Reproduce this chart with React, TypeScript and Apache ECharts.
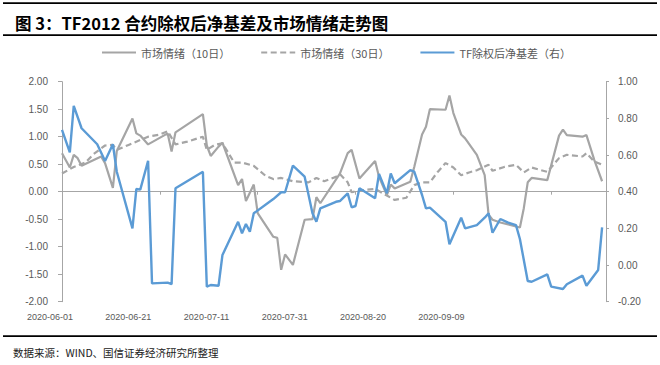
import React, { useEffect, useRef } from 'react';
import * as echarts from 'echarts';

// Calendar-day categories (index 0 = 2020-06-01)
const dayCount = 140;
const categories: string[] = Array.from({ length: dayCount }, (_, i) =>
  new Date(Date.UTC(2020, 5, 1 + i)).toISOString().slice(0, 10)
);
const tickLabels = ['2020-06-01', '2020-06-21', '2020-07-11', '2020-07-31', '2020-08-20', '2020-09-09'];

const seriesNames = ['市场情绪（10日）', '市场情绪（30日）', 'TF除权后净基差（右）'];

// 市场情绪（10日） — day index / value (left axis)
const sent10Days = [0, 2, 3, 4, 5, 10, 11, 13, 14, 18, 19, 20, 22, 27, 28, 29, 36, 37, 38, 40, 41, 45, 46, 47, 49, 50, 54, 55, 56, 57, 59, 62, 64, 65, 66, 71, 73, 74, 76, 80, 81, 83, 84, 85, 89, 90, 92, 93, 94, 98, 99, 100, 102, 103, 106, 108, 109, 110, 112, 117, 118, 119, 120, 124, 127, 128, 129, 133, 134, 136, 138];
const sent10 = [0.70, 0.44, 0.67, 0.61, 0.47, 0.64, 0.52, 0.07, 0.74, 1.33, 1.06, 1.02, 0.86, 1.06, 0.73, 1.08, 1.41, 0.84, 0.65, 0.82, 0.89, 0.12, 0.23, -0.17, 0.13, -0.39, -0.82, -0.84, -1.42, -1.14, -1.33, -0.51, -0.50, -0.10, -0.21, 0.33, 0.70, 0.76, 0.24, 0.56, 0.27, -0.06, 0.13, 0.06, 0.18, 0.45, 1.04, 1.18, 1.50, 1.49, 1.75, 1.43, 1.04, 0.97, 0.67, 0.30, -0.42, -0.51, -0.56, -0.65, -0.30, 0.17, 0.25, 0.21, 1.02, 1.13, 1.03, 1.00, 1.03, 0.58, 0.19];

// 市场情绪（30日） — day index / value (left axis)
const sent30Days = [0, 3, 6, 8, 11, 13, 14, 17, 20, 22, 25, 27, 29, 32, 36, 37, 39, 41, 44, 46, 49, 52, 54, 56, 59, 63, 65, 67, 70, 71, 73, 74, 77, 80, 83, 85, 88, 90, 92, 94, 96, 98, 100, 102, 104, 106, 109, 110, 113, 116, 118, 120, 124, 127, 129, 133, 134, 136, 138];
const sent30 = [0.33, 0.45, 0.53, 0.68, 0.84, 0.85, 0.76, 0.85, 0.94, 1.00, 1.04, 1.10, 0.86, 0.91, 1.00, 0.76, 0.85, 0.88, 0.53, 0.53, 0.47, 0.29, 0.23, 0.25, 0.19, 0.17, 0.25, 0.19, 0.27, 0.32, 0.17, -0.01, 0.03, 0.05, -0.07, -0.15, -0.11, 0.12, 0.17, 0.17, 0.36, 0.52, 0.44, 0.30, 0.35, 0.39, 0.49, 0.38, 0.45, 0.49, 0.35, 0.44, 0.36, 0.61, 0.67, 0.64, 0.70, 0.55, 0.49];

// TF除权后净基差（右） — day index / value (right axis)
const basisDays = [0, 2, 3, 5, 9, 11, 13, 14, 18, 19, 20, 22, 23, 27, 28, 29, 36, 37, 38, 40, 41, 45, 46, 47, 48, 49, 54, 56, 57, 59, 62, 64, 65, 66, 68, 70, 71, 73, 74, 75, 76, 80, 81, 83, 84, 85, 89, 90, 92, 93, 94, 98, 99, 102, 103, 106, 108, 109, 110, 112, 114, 116, 117, 119, 120, 124, 125, 128, 129, 133, 134, 137, 138];
const basis = [0.737, 0.615, 0.868, 0.746, 0.659, 0.567, 0.659, 0.509, 0.200, 0.415, 0.411, 0.569, -0.100, -0.096, -0.104, 0.419, 0.509, -0.118, -0.109, -0.113, 0.055, 0.236, 0.173, 0.224, 0.182, 0.282, 0.360, 0.397, 0.397, 0.542, 0.482, 0.282, 0.236, 0.309, 0.327, 0.345, 0.349, 0.391, 0.315, 0.322, 0.419, 0.364, 0.497, 0.391, 0.500, 0.446, 0.518, 0.509, 0.382, 0.309, 0.313, 0.236, 0.113, 0.258, 0.200, 0.218, 0.258, 0.282, 0.176, 0.251, 0.231, 0.218, 0.142, -0.087, -0.091, -0.051, -0.118, -0.131, -0.105, -0.058, -0.113, -0.027, 0.206];

const pairs = (days: number[], vals: number[]) => days.map((d, i) => [d, vals[i]]);

const GRAY = '#a5a5a5';
const BLUE = '#5b9bd5';
const AXIS = '#a6a6a6';
const LABEL = '#595959';
const CJK = 'Noto Sans CJK SC, sans-serif';
const LATIN = 'Liberation Sans, Arial, sans-serif';

// decorative horizontal rules (title band and source line)
const ruleYs = [2.5, 34.5, 335.5];

export default function App() {
  const ref = useRef<HTMLDivElement>(null);
  useEffect(() => {
    const chart = echarts.init(ref.current!, null, { renderer: 'svg' });
    chart.setOption({
      animation: false,
      graphic: {
        elements: [
          ...ruleYs.map((y) => ({
            type: 'rect',
            z: 100,
            shape: { x: 3, y, width: 654, height: 1.4 },
            style: { fill: '#000000' },
          })),
          ...ruleYs.map((y) => ({
            type: 'text',
            x: 3,
            y,
            z: 100,
            style: {
              text: ' ',
              fontSize: 1,
              lineHeight: 1.4,
              width: 654,
              height: 1.4,
              backgroundColor: '#000000',
            },
          })),
          {
            type: 'text',
            x: 15,
            y: 22.5,
            style: {
              text: '图 3：TF2012 合约除权后净基差及市场情绪走势图',
              fontSize: 16.5,
              fontWeight: 'bold',
              fill: '#000',
              fontFamily: CJK,
              verticalAlign: 'middle',
            },
          },
          {
            type: 'text',
            x: 13,
            y: 352,
            style: {
              text: '数据来源：WIND、国信证券经济研究所整理',
              fontSize: 10.5,
              fill: '#222',
              fontFamily: CJK,
              verticalAlign: 'middle',
            },
          },
        ],
      },
      legend: {
        left: 96,
        top: 42,
        itemWidth: 34,
        itemHeight: 14,
        itemGap: 30,
        itemStyle: { opacity: 0 },
        textStyle: { fontSize: 11, color: LABEL, fontFamily: CJK },
        data: seriesNames,
      },
      grid: { left: 62, right: 54, top: 81.7, bottom: 63.3, containLabel: false },
      xAxis: [
        {
          type: 'category',
          data: categories,
          boundaryGap: false,
          position: 'bottom',
          axisLine: { show: false, onZero: false },
          axisTick: { show: false },
          splitLine: { show: false },
          axisLabel: {
            interval: (_i: number, v: string) => tickLabels.includes(v),
            margin: 11,
            fontSize: 9,
            color: LABEL,
            fontFamily: LATIN,
            padding: [0, 24, 0, 0],
          },
        },
        {
          type: 'category',
          data: categories,
          boundaryGap: false,
          position: 'bottom',
          axisLine: { show: true, onZero: true, onZeroAxisIndex: 0, lineStyle: { color: AXIS, width: 1 } },
          axisTick: { show: true, interval: 24, length: 3, lineStyle: { color: AXIS } },
          axisLabel: { show: false },
          splitLine: { show: false },
        },
      ],
      yAxis: [
        {
          type: 'value',
          min: -2,
          max: 2,
          interval: 0.5,
          position: 'left',
          axisLine: { show: true, lineStyle: { color: AXIS } },
          axisTick: { show: true, length: 4, lineStyle: { color: AXIS } },
          splitLine: { show: false },
          axisLabel: {
            formatter: (v: number) => v.toFixed(2),
            margin: 14,
            fontSize: 10,
            color: LABEL,
            fontFamily: LATIN,
          },
        },
        {
          type: 'value',
          min: -0.2,
          max: 1.0,
          interval: 0.2,
          position: 'right',
          axisLine: { show: true, lineStyle: { color: AXIS } },
          axisTick: { show: true, length: 3, lineStyle: { color: AXIS } },
          splitLine: { show: false },
          axisLabel: {
            formatter: (v: number) => v.toFixed(2),
            margin: 12,
            fontSize: 10,
            color: LABEL,
            fontFamily: LATIN,
          },
        },
      ],
      series: [
        {
          name: seriesNames[0],
          type: 'line',
          xAxisIndex: 0,
          yAxisIndex: 0,
          symbol: 'none',
          data: pairs(sent10Days, sent10),
          lineStyle: { color: GRAY, width: 2.2 },
          itemStyle: { color: GRAY },
        },
        {
          name: seriesNames[1],
          type: 'line',
          xAxisIndex: 0,
          yAxisIndex: 0,
          symbol: 'none',
          data: pairs(sent30Days, sent30),
          lineStyle: { color: GRAY, width: 2.2, type: [6, 3.5] },
          itemStyle: { color: GRAY },
        },
        {
          name: seriesNames[2],
          type: 'line',
          xAxisIndex: 0,
          yAxisIndex: 1,
          symbol: 'none',
          data: pairs(basisDays, basis),
          lineStyle: { color: BLUE, width: 2.4 },
          itemStyle: { color: BLUE },
        },
      ],
    });
    return () => chart.dispose();
  }, []);
  return <div ref={ref} style={{ position: 'absolute', left: 0, top: 0, width: 660, height: 365 }} />;
}
